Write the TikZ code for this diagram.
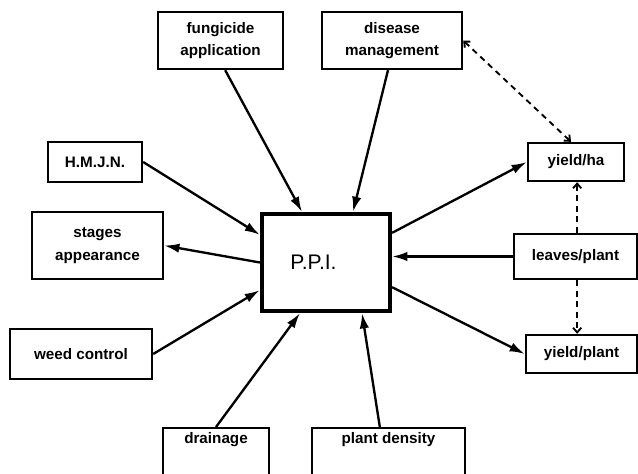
\documentclass[tikz,border=0pt]{standalone}
\usepackage{fontspec}
\setmainfont{Liberation Sans}
\usetikzlibrary{arrows.meta}

\begin{document}
\begin{tikzpicture}[
  x=0.03cm, y=-0.03cm,
  >={Latex[length=13pt,width=8pt]},
  fbox/.style={rectangle, draw, line width=2pt, align=center, inner sep=2pt, font=\fontsize{13}{19}\selectfont\bfseries},
  core/.style={rectangle, draw, line width=3.6pt, font=\fontsize{18}{20}\selectfont},
  link/.style={line width=2pt, ->},
  feed/.style={line width=1.6pt, dash pattern=on 5pt off 4pt, >={Straight Barb[length=4pt,width=7pt]}},
]
\useasboundingbox (0,0) rectangle (638,474);

% Centre
\node[core, minimum width=3.84cm, minimum height=2.91cm] (ppi) at (326,262.5) {P.P.I.\hspace*{0.75cm}};

% Factors
\node[fbox, minimum width=3.75cm, minimum height=1.71cm] (fung) at (220.5,40.5) {fungicide\\application};
\node[fbox, minimum width=4.2cm, minimum height=1.71cm] (dis) at (392,40.5) {disease\\management};
\node[fbox, minimum width=2.82cm, minimum height=1.2cm] (hmjn) at (95,162) {H.M.J.N.};
\node[fbox, minimum width=3.93cm, minimum height=2.01cm] (stages) at (97.5,245.5) {stages\\appearance};
\node[fbox, minimum width=4.26cm, minimum height=1.5cm] (weed) at (81,354) {weed control};
\node[fbox, anchor=north, minimum width=3.18cm, text height=11pt, text depth=3cm] (drain) at (216,427) {drainage};
\node[fbox, anchor=north, minimum width=4.59cm, text height=11pt, text depth=3cm] (dens) at (388.5,427) {plant density};

% Outputs
\node[fbox, minimum width=2.88cm, minimum height=1.14cm] (yha) at (576,162) {yield/ha};
\node[fbox, minimum width=3.69cm, minimum height=1.35cm] (leaves) at (575.5,256.5) {leaves/plant};
\node[fbox, minimum width=3.33cm, minimum height=1.14cm] (yplant) at (581.5,354) {yield/plant};

% Links
\draw[link] ([xshift=0.14cm]fung.south) -- ([xshift=-0.72cm]ppi.north);
\draw[link] ([xshift=-0.12cm]dis.south) -- ([xshift=0.81cm]ppi.north);
\draw[link] (hmjn.east) -- ([yshift=0.83cm]ppi.west);
\draw[link] (ppi.west) -- (stages.east);
\draw[link] (weed.east) -- ([yshift=-0.83cm]ppi.west);
\draw[link] (drain.north) -- ([xshift=-0.78cm]ppi.south);
\draw[link] ([xshift=-0.26cm]dens.north) -- ([xshift=1.08cm]ppi.south);
\draw[link] ([yshift=0.89cm]ppi.east) -- (yha.west);
\draw[link] (leaves.west) -- (leaves.west -| ppi.east);
\draw[link] ([yshift=-0.74cm]ppi.east) -- (yplant.west);

% Feedback
\draw[feed, <->] (dis.east) -- ([xshift=-0.15cm]yha.north);
\draw[feed, ->] ([xshift=0.05cm]leaves.north) -- ([xshift=0.05cm]leaves.north |- yha.south);
\draw[feed, ->] ([xshift=0.05cm]leaves.south) -- ([xshift=0.05cm]leaves.south |- yplant.north);

\end{tikzpicture}
\end{document}
